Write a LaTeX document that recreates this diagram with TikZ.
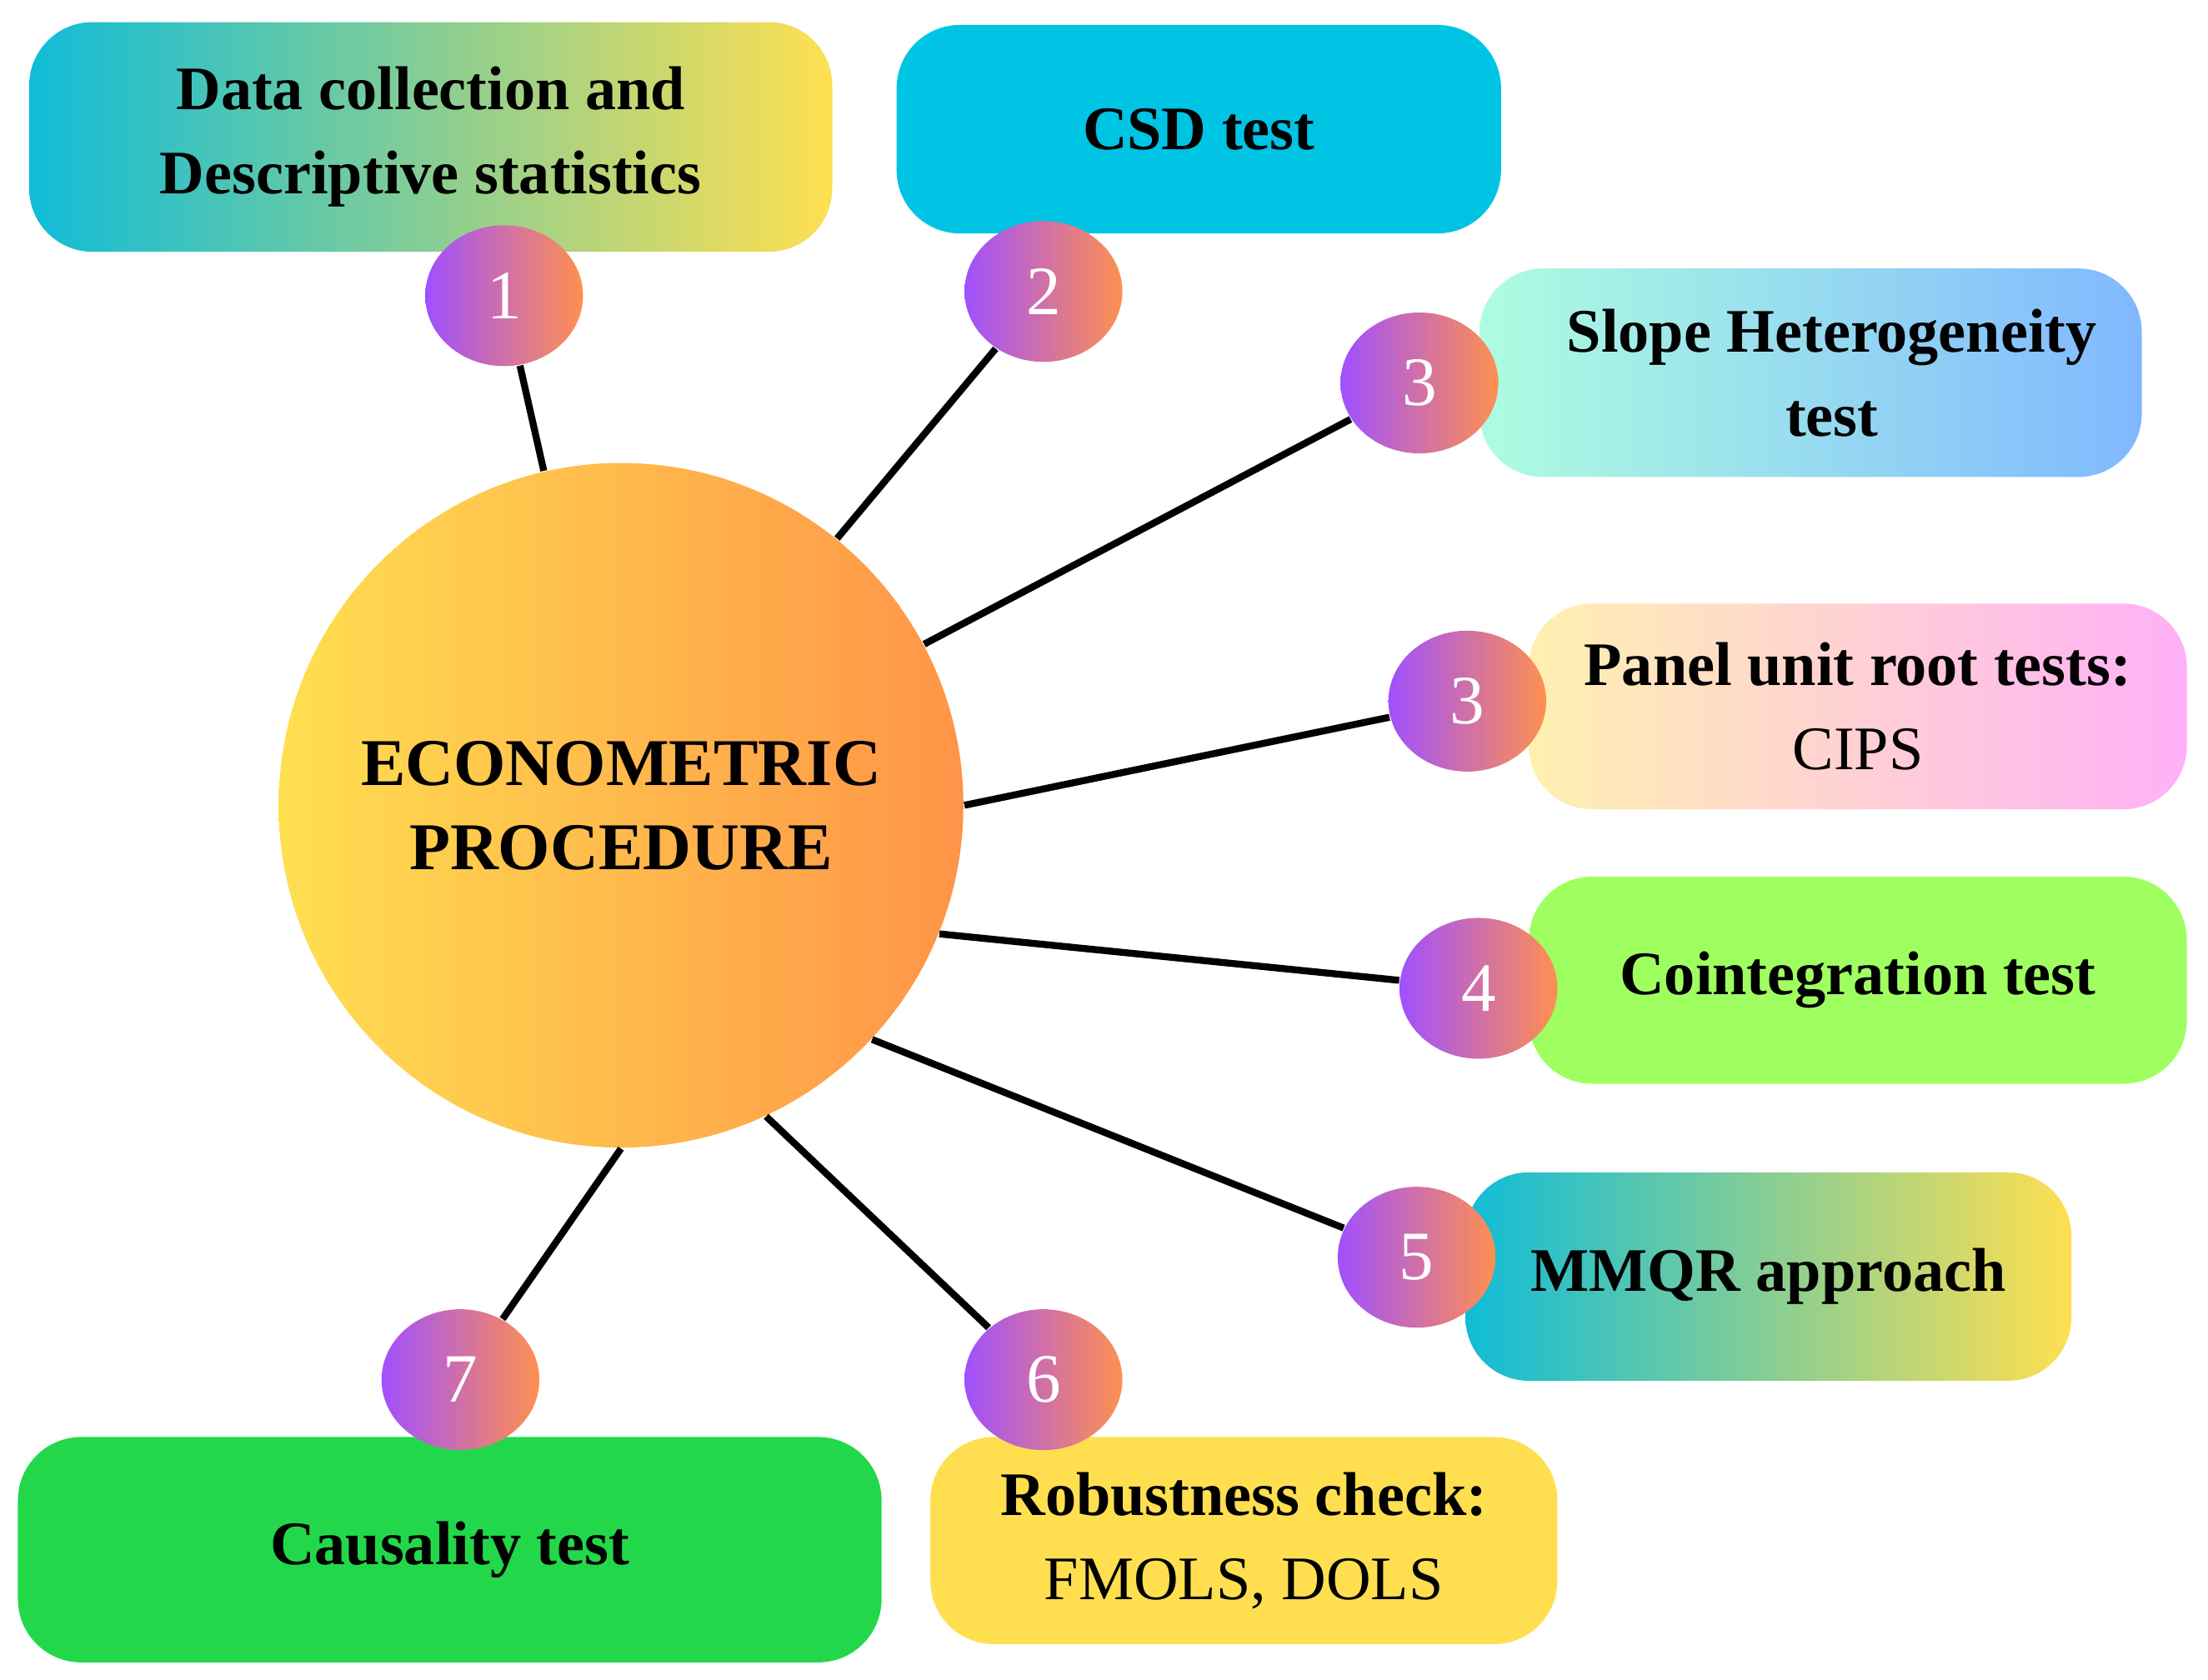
\documentclass[tikz,border=0pt]{standalone}
\usepackage{fontspec}
\setmainfont{Liberation Serif}
\usetikzlibrary{shapes.geometric}
\definecolor{cyanb}{HTML}{00C4E4}
\definecolor{tealb}{HTML}{10BCD8}
\definecolor{greenm}{HTML}{00C9A0}
\definecolor{yel}{HTML}{FFDF50}
\definecolor{mint}{HTML}{AEFDE0}
\definecolor{lblue}{HTML}{80B8FF}
\definecolor{lyel}{HTML}{FFF0B0}
\definecolor{lpink}{HTML}{FFB0F8}
\definecolor{lgreen}{HTML}{A0FF60}
\definecolor{dgreen}{HTML}{22D84A}
\definecolor{purp}{HTML}{A050FF}
\definecolor{orng}{HTML}{FF9050}
\definecolor{corange}{HTML}{FF9448}
\tikzset{
 box/.style={rounded corners=0.45cm, font=\fontsize{12.5}{17}\selectfont\bfseries, align=center, anchor=north west, inner sep=0pt},
 num/.style={ellipse, minimum width=1.12cm, minimum height=1.0cm, left color=purp, right color=orng, text=white, font=\fontsize{14}{16}\selectfont, inner sep=0pt},
 conn/.style={line width=1.4pt, black}
}
\begin{document}
\begin{tikzpicture}[x=0.01cm,y=-0.01cm]
\useasboundingbox (0,0) rectangle (1568,1193);
% boxes
\node[box, minimum width=5.7cm, minimum height=1.63cm, left color=tealb, middle color=greenm, right color=yel] (b1) at (20,15) {Data collection and\\Descriptive statistics};
\node[box, minimum width=4.29cm, minimum height=1.48cm, fill=cyanb] (b2) at (636,17) {CSD test};
\node[box, minimum width=4.7cm, minimum height=1.48cm, left color=mint, right color=lblue] (b3) at (1050,190) {\hspace*{0.3cm}Slope Heterogeneity\\\hspace*{0.3cm}test};
\node[box, minimum width=4.67cm, minimum height=1.46cm, left color=lyel, right color=lpink] (b3b) at (1085,428) {Panel unit root tests:\\\mdseries CIPS};
\node[box, minimum width=4.67cm, minimum height=1.47cm, fill=lgreen] (b4) at (1085,622) {Cointegration test};
\node[box, minimum width=4.3cm, minimum height=1.48cm, left color=tealb, middle color=greenm, right color=yel] (b5) at (1040,832) {MMQR approach};
\node[box, minimum width=4.45cm, minimum height=1.47cm, fill=yel] (b6) at (660,1020) {Robustness check:\\\mdseries FMOLS, DOLS};
\node[box, minimum width=6.13cm, minimum height=1.6cm, fill=dgreen] (b7) at (12,1020) {Causality test};
% centre
\node[circle, minimum size=4.86cm, left color=yel, right color=corange, font=\fontsize{13.5}{17}\selectfont\bfseries, align=center, inner sep=0pt] (c) at (441,572) {ECONOMETRIC\\PROCEDURE};
% numbers
\node[num] (n1) at (358,210) {1};
\node[num] (n2) at (741,207) {2};
\node[num] (n3) at (1008,272) {3};
\node[num] (n3b) at (1042,498) {3};
\node[num] (n4) at (1050,702) {4};
\node[num] (n5) at (1006,893) {5};
\node[num] (n6) at (741,980) {6};
\node[num] (n7) at (327,980) {7};
% connectors
\draw[conn] (c.103.4) -- (n1);
\draw[conn] (c.51.5) -- (n2);
\draw[conn] (c.28.4) -- (n3);
\draw[conn] (c.0) -- (n3b);
\draw[conn] (c.-22.3) -- (n4);
\draw[conn] (c.-43.3) -- (n5);
\draw[conn] (c.-65.4) -- (n6);
\draw[conn] (c.-90) -- (n7);
\end{tikzpicture}
\end{document}
